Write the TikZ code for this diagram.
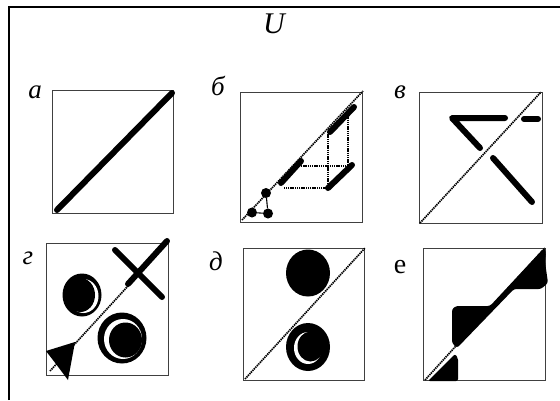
\documentclass[tikz,border=0pt]{standalone}
\usepackage{fontspec}
\setmainfont{Liberation Serif}
\begin{document}
\begin{tikzpicture}[
  x=1pt, y=-1pt,
  frame/.style={line width=2.2pt},
  panel/.style={draw=black!75, line width=0.9pt},
  diag/.style={line width=1.7pt, dash pattern=on 1.4pt off 0.8pt},
  bar/.style={line width=6pt, line cap=round, line join=round},
  link/.style={line width=1.1pt},
  dot/.style={circle, fill=black, inner sep=0pt, minimum size=10pt},
  lbl/.style={inner sep=0pt, font=\fontsize{27}{31}\selectfont\itshape},
  lblup/.style={inner sep=0pt, font=\fontsize{28}{32}\selectfont}
]
\useasboundingbox (0,0) rectangle (560,400);
\draw[frame] (9,400) -- (9,7) -- (560,7);
\node[inner sep=0pt, font=\fontsize{30}{34}\selectfont\itshape] (title) at (274,24) {U};

\node[lbl] (la) at (35,92) {а};
\draw[panel] (52,90) rectangle (173,213);
\draw[bar] (57,210) -- (172,93);

\node[lbl] (lb) at (218,86) {б};
\draw[panel] (240,92) rectangle (362,222);
\draw[diag] (242,220) -- (363,91);
\draw[diag] (328,132) -- (328,188) -- (283,188);
\draw[diag] (348,113) -- (348,166);
\draw[diag] (301,166) -- (352,166);
\draw[bar] (330,132) -- (354,107);
\draw[bar] (281,183) -- (301,161);
\draw[bar] (328,188) -- (352,165);
\node[dot] (g1) at (266,193) {};
\node[dot] (g2) at (252,212.5) {};
\node[dot] (g3) at (268,213.5) {};
\draw[link] (g1) -- (g3);
\draw[link] (g2) -- (g3);

\node[lbl] (lv) at (400,92) {в};
\draw[panel] (419,92) rectangle (542,223);
\draw[diag] (420,223) -- (541,92);
\draw[bar] (505,118) -- (452,118) -- (480,148);
\draw[bar] (524,119) -- (538,119);
\draw[bar] (493,158) -- (532,202);

\node[lbl] (lg) at (28,258) {г};
\draw[panel] (46,243) rectangle (168,375);
\fill (82,295) ellipse [x radius=19.5, y radius=21.5];
\fill[white] (83.5,296) ellipse [x radius=15, y radius=17];
\fill (80.5,295) ellipse [x radius=14.5, y radius=17];
\fill (122,338) ellipse [x radius=24.5, y radius=25.5];
\fill[white] (123,339) ellipse [x radius=19, y radius=20];
\fill (125.5,340) ellipse [x radius=16.5, y radius=17.5];
\draw[diag] (50,371) -- (128,286);
\draw[bar] (128,284) -- (167,241);
\draw[bar] (115,250) -- (162,297);
\fill (75,342) -- (46,351) -- (56,364) -- (68,380) -- cycle;

\node[lbl] (ld) at (216,261) {д};
\draw[panel] (243,248) rectangle (364,380);
\fill (308,273) ellipse [x radius=22, y radius=23.5];
\fill (308,347) ellipse [x radius=22, y radius=24];
\fill[white] (308,348) ellipse [x radius=14, y radius=16];
\fill (310.5,346.5) ellipse [x radius=13, y radius=15];
\draw[diag] (245,379) -- (365,248);

\node[lblup] (le) at (400,267) {е};
\draw[panel] (423,248) rectangle (545,380);
\draw[diag] (425,380) -- (545,248);
\fill[rounded corners=2pt] (428,381) -- (455,354) -- (458,358) -- (458,381) -- cycle;
\fill[rounded corners=2.5pt] (452,343) -- (452,309) -- (456,306) -- (490,306)
  -- (544,248) -- (546,252) -- (545,262) -- (548,283) -- (541,289) -- (514,289)
  -- (457,348) -- cycle;
\end{tikzpicture}
\end{document}
